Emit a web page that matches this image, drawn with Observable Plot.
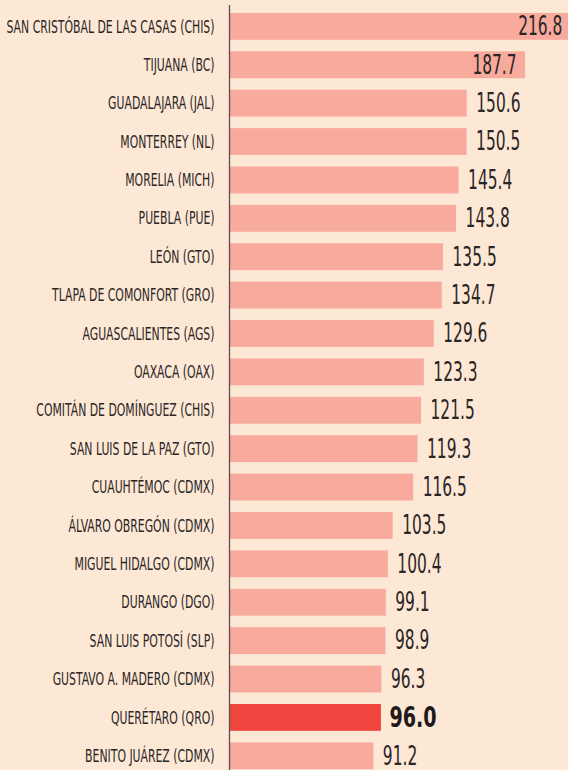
<!DOCTYPE html>
<html>
<head>
<meta charset="utf-8">
<script src="https://cdn.jsdelivr.net/npm/d3@7"></script>
<script src="https://cdn.jsdelivr.net/npm/@observablehq/plot@0.6"></script>
<style>
  html, body { margin: 0; padding: 0; background: #fde8d5; overflow: hidden; }
  #chart svg { display: block; background: #fde8d5; }
</style>
</head>
<body>
<div id="chart"></div>
<script>
const cities = [
  "SAN CRISTÓBAL DE LAS CASAS (CHIS)",
  "TIJUANA (BC)",
  "GUADALAJARA (JAL)",
  "MONTERREY (NL)",
  "MORELIA (MICH)",
  "PUEBLA (PUE)",
  "LEÓN (GTO)",
  "TLAPA DE COMONFORT (GRO)",
  "AGUASCALIENTES (AGS)",
  "OAXACA (OAX)",
  "COMITÁN DE DOMÍNGUEZ (CHIS)",
  "SAN LUIS DE LA PAZ (GTO)",
  "CUAUHTÉMOC (CDMX)",
  "ÁLVARO OBREGÓN (CDMX)",
  "MIGUEL HIDALGO (CDMX)",
  "DURANGO (DGO)",
  "SAN LUIS POTOSÍ (SLP)",
  "GUSTAVO A. MADERO (CDMX)",
  "QUERÉTARO (QRO)",
  "BENITO JUÁREZ (CDMX)"
];
const values = [216.8, 187.7, 150.6, 150.5, 145.4, 143.8, 135.5, 134.7, 129.6, 123.3,
                121.5, 119.3, 116.5, 103.5, 100.4, 99.1, 98.9, 96.3, 96.0, 91.2];
const highlight = "QUERÉTARO (QRO)";
const insideThreshold = 180;

const data = cities.map((city, i) => ({city, value: values[i]}));
const font = "'Liberation Sans Narrow', 'DejaVu Sans Condensed', 'Roboto Condensed', 'Liberation Sans', sans-serif";
const salmon = "#f8aa9c";
const red = "#f0453e";
const ink = "#2b2626";

const plot = Plot.plot({
  width: 568,
  height: 770,
  marginLeft: 230,
  marginRight: 0,
  marginTop: 5,
  marginBottom: 0,
  style: {background: "#fde8d5", fontFamily: font, color: ink},
  x: {domain: [0, 215], axis: null},
  y: {domain: cities, range: [7.2, 775], paddingInner: 0.3, paddingOuter: 0.15, round: false, label: null},
  marks: [
    Plot.barX(data, {y: "city", x: "value", fill: d => d.city === highlight ? red : salmon}),
    Plot.ruleX([0], {stroke: "#5a5252", strokeWidth: 1.3, dx: -1}),
    Plot.axisY({tickSize: 0, tickPadding: 16, fontSize: 17.5, fill: ink, label: null}),
    Plot.text(data.filter(d => d.value < insideThreshold && d.city !== highlight),
      {y: "city", x: "value", text: d => d.value.toFixed(1), textAnchor: "start", dx: 9, fontSize: 26, fill: ink, className: "val"}),
    Plot.text(data.filter(d => d.value >= insideThreshold),
      {y: "city", x: "value", text: d => d.value.toFixed(1), textAnchor: "end", dx: -9, fontSize: 26, fill: ink, className: "val"}),
    Plot.text(data.filter(d => d.city === highlight),
      {y: "city", x: "value", text: d => d.value.toFixed(1), textAnchor: "start", dx: 8, fontSize: 28, fontWeight: "bold", fill: "#1e1a1a", className: "valbold"})
  ]
});
document.getElementById("chart").append(plot);

// condense text horizontally to mimic a condensed typeface
function condense(sel, k) {
  plot.querySelectorAll(sel).forEach(t => {
    const w = t.getComputedTextLength();
    t.setAttribute("textLength", (w * k).toFixed(1));
    t.setAttribute("lengthAdjust", "spacingAndGlyphs");
  });
}
condense('g[aria-label="y-axis tick label"] text', 0.69);
condense('.val text', 0.66);
condense('.valbold text', 0.76);
</script>
</body>
</html>
